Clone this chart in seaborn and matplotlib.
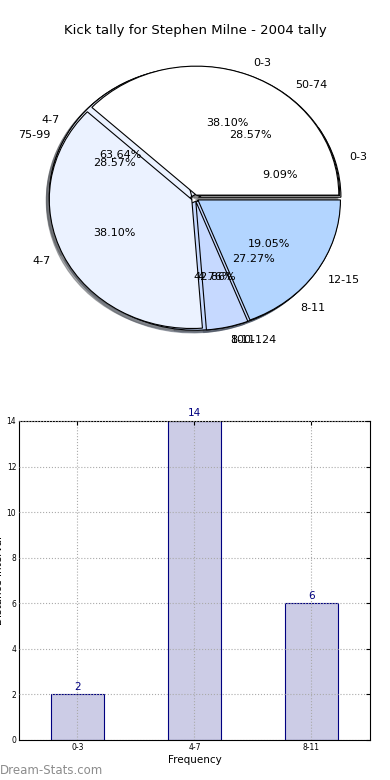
import matplotlib
matplotlib.use("Agg")
import matplotlib.pyplot as plt
import seaborn as sns

# data
title = "Kick tally for Stephen Milne - 2004 tally"

# pie layers (drawn in this order, last one ends up on top)
tally_labels = ["0-3", "4-7", "8-11"]
tally_values = [2, 14, 6]

dist_labels = ["50-74", "75-99", "100-124"]
dist_values = [6, 6, 9]

kick_labels = ["0-3", "4-7", "8-11", "12-15"]
kick_values = [8, 8, 1, 4]

pie_colors = ["#ffffff", "#ebf2ff", "#c6d9ff", "#b3d5ff"]

# bar chart
bar_cats = ["0-3", "4-7", "8-11"]
bar_values = [2, 14, 6]

sns.set_style("white")
plt.rcParams["font.family"] = ["DejaVu Sans"]
plt.rcParams["text.color"] = "black"
plt.rcParams["axes.labelcolor"] = "black"
plt.rcParams["xtick.color"] = "black"
plt.rcParams["ytick.color"] = "black"

fig = plt.figure(figsize=(3.9, 7.8), dpi=100)
fig.text(0.5, 0.961, title, ha="center", va="center", fontsize=9.5)

#pie part
ax1 = fig.add_axes([0.036, 0.536, 0.928, 0.42])
for labs, vals in [(tally_labels, tally_values), (dist_labels, dist_values), (kick_labels, kick_values)]:
    ax1.pie(vals, labels=labs, colors=pie_colors[:len(vals)], autopct="%.2f%%",
            explode=[0.025] * len(vals), startangle=0,
            shadow={"ox": -0.015, "oy": -0.015, "shade": 0.6},
            wedgeprops={"edgecolor": "black", "linewidth": 0.8},
            textprops={"fontsize": 8})
ax1.set_aspect("auto")
ax1.set_xlim(-1.27, 1.27)
ax1.set_ylim(-1.27, 1.27)
ax1.axis("off")

#bar part
ax2 = fig.add_axes([0.0487, 0.0513, 0.9, 0.409])
sns.barplot(x=bar_cats, y=bar_values, width=0.45, color="#ccccE6", saturation=1,
            edgecolor="navy", linewidth=0.8, ax=ax2)
for i, v in enumerate(bar_values):
    ax2.text(i, v + 0.12, str(v), ha="center", va="bottom", color="navy", fontsize=7.5)
ax2.set_xlim(-0.5, 2.5)
ax2.set_ylim(0, 14)
ax2.set_yticks(range(0, 15, 2))
ax2.grid(True, linestyle=":", color="#aaaaaa", linewidth=0.8)
ax2.set_axisbelow(False)
for b in ax2.patches:
    b.set_zorder(1)
ax2.tick_params(direction="in", labelsize=5.5, top=True, right=True, length=3, pad=2)
for s in ax2.spines.values():
    s.set_color("black")
    s.set_linewidth(0.8)
ax2.set_xlabel("Frequency", fontsize=7.5, labelpad=2)
ax2.set_ylabel("Distance Interval", fontsize=7.5, labelpad=2)

fig.text(0.0, 0.012, "Dream-Stats.com", color="#8c8c8c", fontsize=8.5, ha="left", va="center")

fig.savefig("out.png", dpi=100)
